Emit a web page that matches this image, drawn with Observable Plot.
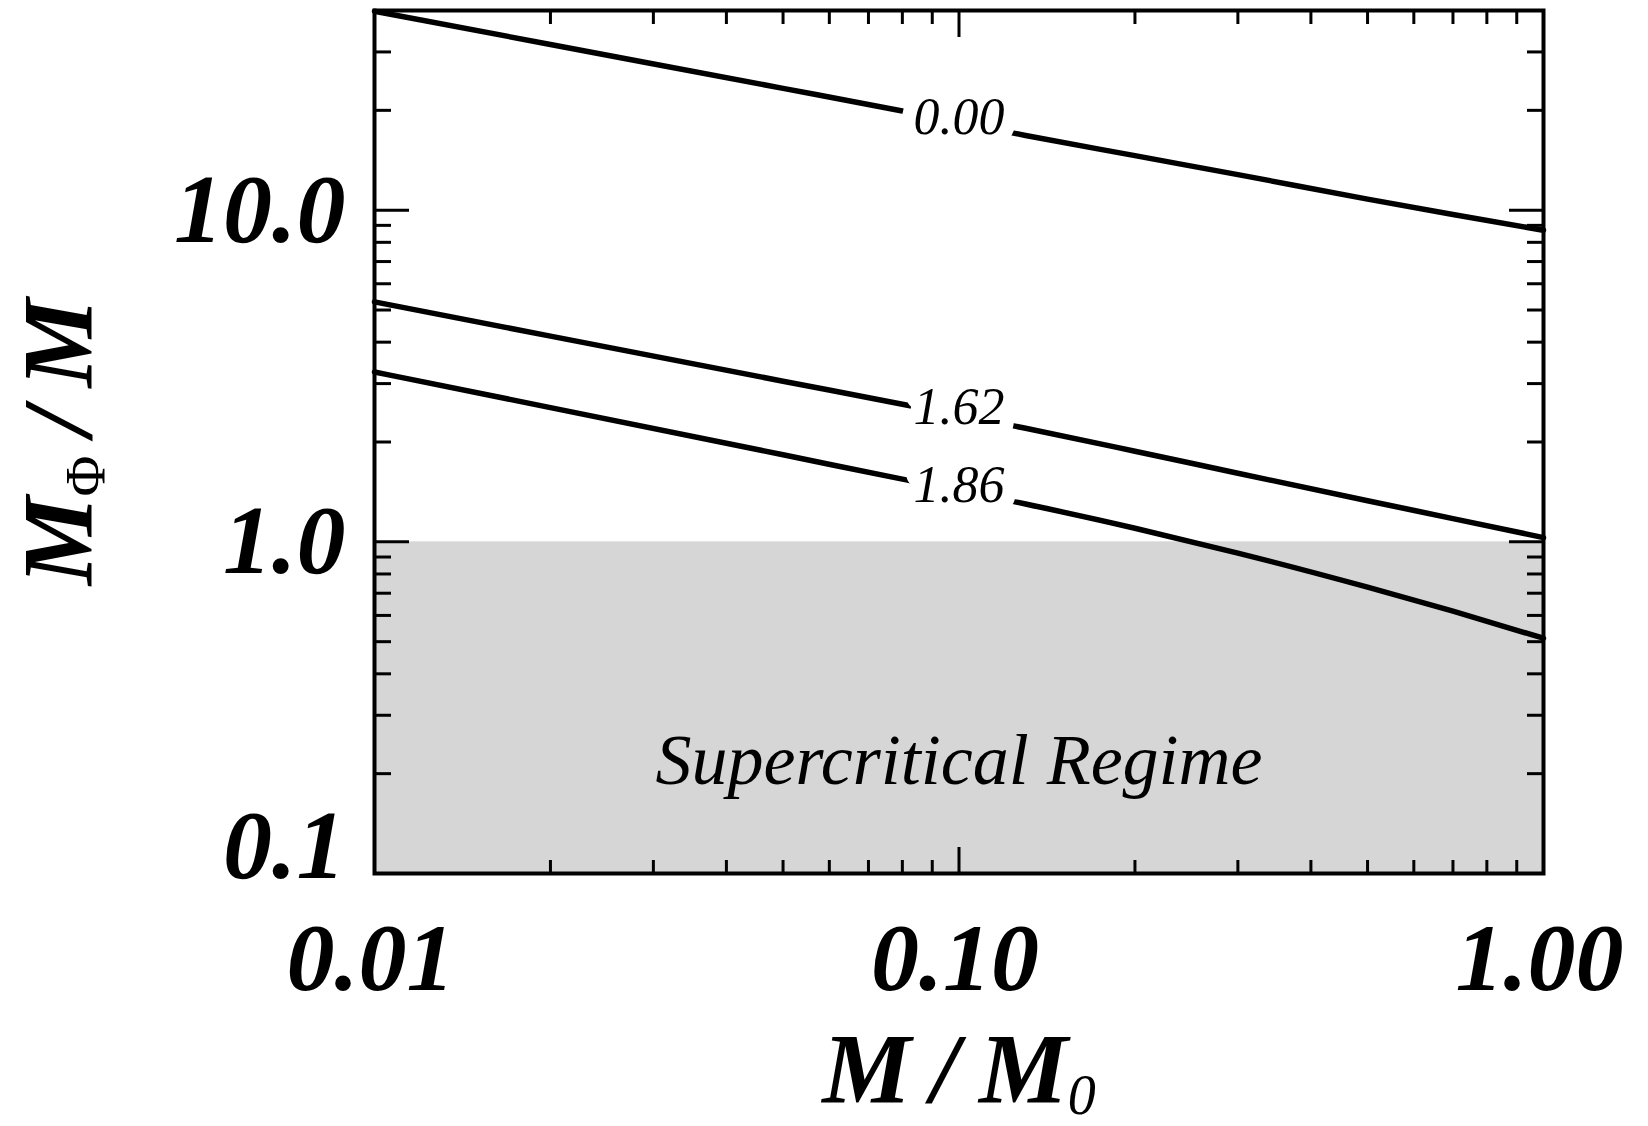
<!DOCTYPE html>
<html>
<head>
<meta charset="utf-8">
<script src="https://cdn.jsdelivr.net/npm/d3@7"></script>
<script src="https://cdn.jsdelivr.net/npm/@observablehq/plot@0.6"></script>
<style>
  body { margin: 0; background: #fff; }
  #chart svg { display: block; }
</style>
</head>
<body>
<div id="chart"></div>
<script>
// ---- data ----
const massRatio = [0.01, 0.02, 0.05, 0.08, 0.13, 0.2, 0.3, 0.5, 0.7, 1.0];
const curve000 = [39.8, 31.6, 23.3, 19.9, 16.8, 14.6, 12.8, 10.8, 9.7, 8.7];
const curve162 = [5.29, 4.17, 3.05, 2.60, 2.20, 1.876, 1.61, 1.33, 1.175, 1.03];
const curve186 = [3.25, 2.54, 1.83, 1.545, 1.30, 1.099, 0.925, 0.730, 0.618, 0.512];
const contourLevels = ["0.00", "1.62", "1.86"];
const labelX = [0.1, 0.1, 0.1];
const labelY = [19.0, 2.545, 1.48];
const criticalRatio = 1.0;
const regimeLabel = "Supercritical Regime";
const regimeX = 0.1;
const regimeY = 0.219;

const xDomain = [0.01, 1];
const yDomain = [0.1, 40];
const xTickValues = [0.01, 0.1, 1];
const xTickLabels = ["0.01", "0.10", "1.00"];
const xMinorTicks = [0.02, 0.03, 0.04, 0.05, 0.06, 0.07, 0.08, 0.09, 0.2, 0.3, 0.4, 0.5, 0.6, 0.7, 0.8, 0.9];
const yTickValues = [0.1, 1, 10];
const yTickLabels = ["0.1", "1.0", "10.0"];
const yMinorTicks = [0.2, 0.3, 0.4, 0.5, 0.6, 0.7, 0.8, 0.9, 2, 3, 4, 5, 6, 7, 8, 9, 20, 30];

const xTitleMain = "M\u2009/\u2009M";
const xTitleSub = "0";
const yTitleMain = "M";
const yTitleSub = "\u03A6";
const yTitleRest = "\u2009/\u2009M";

// ---- build tables ----
const rows = [];
[curve000, curve162, curve186].forEach((ys, k) =>
  ys.forEach((y, i) => rows.push({x: massRatio[i], y, level: contourLevels[k]}))
);
const labels = contourLevels.map((t, i) => ({x: labelX[i], y: labelY[i], text: t}));
const region = [{x1: xDomain[0], x2: xDomain[1], y1: yDomain[0], y2: criticalRatio}];

const xFmt = d => xTickLabels[xTickValues.indexOf(d)];
const yFmt = d => yTickLabels[yTickValues.indexOf(d)];

const tickFont = {fontWeight: "bold", fontStyle: "italic", fontFamily: "Liberation Serif"};
const tickStyle = {strokeWidth: 3, fill: "none", stroke: "black"};

const chart = Plot.plot({
  width: 1648,
  height: 1126,
  marginLeft: 374,
  marginRight: 105,
  marginTop: 10,
  marginBottom: 253,
  x: {type: "log", domain: xDomain},
  y: {type: "log", domain: yDomain},
  style: {background: "white", color: "black", fontFamily: "Liberation Serif"},
  marks: [
    Plot.rect(region, {x1: "x1", x2: "x2", y1: "y1", y2: "y2", fill: "#d6d6d6"}),
    Plot.line(rows, {x: "x", y: "y", z: "level", stroke: "black", strokeWidth: 5.5, curve: "monotone-x"}),
    Plot.text(labels, {
      x: "x", y: "y", text: "text", fontSize: 52, fontStyle: "italic", fontFamily: "Liberation Serif",
      fill: "black", stroke: "white", strokeWidth: 28, strokeLinejoin: "round", lineAnchor: "middle"
    }),
    Plot.text([regimeLabel], {
      x: () => regimeX, y: () => regimeY, text: d => d, fontSize: 72, fontStyle: "italic",
      fontFamily: "Liberation Serif", fill: "black", lineAnchor: "middle"
    }),
    // ticks (inward) on all four sides
    Plot.axisY(yTickValues, {anchor: "left", tickSize: -35, ...tickStyle}),
    Plot.axisY(yTickValues, {anchor: "right", tickSize: -35, ...tickStyle}),
    Plot.axisY(yMinorTicks, {anchor: "left", tickSize: -17, ...tickStyle}),
    Plot.axisY(yMinorTicks, {anchor: "right", tickSize: -17, ...tickStyle}),
    Plot.axisX(xTickValues, {anchor: "bottom", tickSize: -26, ...tickStyle}),
    Plot.axisX(xTickValues, {anchor: "top", tickSize: -26, ...tickStyle}),
    Plot.axisX(xMinorTicks, {anchor: "bottom", tickSize: -13, ...tickStyle}),
    Plot.axisX(xMinorTicks, {anchor: "top", tickSize: -13, ...tickStyle}),
    // tick labels
    Plot.axisY(yTickValues.filter(v => v !== yDomain[0]), {
      anchor: "left", tickSize: 0, tickPadding: 29, tickFormat: yFmt, label: null, fill: "black", fontSize: 98, ...tickFont
    }),
    Plot.axisY([yDomain[0]], {
      anchor: "left", tickSize: 0, tickPadding: 29, tickFormat: yFmt, label: null, dy: -27, fill: "black", fontSize: 98, ...tickFont
    }),
    Plot.axisX(xTickValues, {
      anchor: "bottom", tickSize: 0, tickPadding: 48, tickFormat: xFmt, label: null, dx: -4, fill: "black", fontSize: 96, ...tickFont
    }),
    Plot.frame({stroke: "black", strokeWidth: 4}),
    // axis titles
    Plot.text([xTitleMain + xTitleSub], {
      frameAnchor: "bottom", dy: 228, lineAnchor: "bottom", text: d => d,
      fontSize: 100, fontWeight: "bold", fontStyle: "italic", fontFamily: "Liberation Serif", fill: "black"
    }),
    Plot.text([yTitleMain + yTitleSub + yTitleRest], {
      frameAnchor: "left", dx: -284, rotate: -90, lineAnchor: "bottom", textAnchor: "middle", text: d => d,
      fontSize: 100, fontWeight: "bold", fontStyle: "italic", fontFamily: "Liberation Serif", fill: "black"
    })
  ]
});

// rich text (subscripts) for the axis titles
const NS = "http://www.w3.org/2000/svg";
function span(el, txt, attrs) {
  const t = document.createElementNS(NS, "tspan");
  t.textContent = txt;
  for (const k in attrs) t.setAttribute(k, attrs[k]);
  el.appendChild(t);
}
d3.select(chart).selectAll("text").each(function () {
  if (this.textContent === xTitleMain + xTitleSub) {
    this.textContent = "";
    span(this, xTitleMain, {});
    span(this, xTitleSub, {dy: 12, "font-size": 56, "font-weight": "normal", "font-style": "italic"});
  } else if (this.textContent === yTitleMain + yTitleSub + yTitleRest) {
    this.textContent = "";
    span(this, yTitleMain, {});
    span(this, yTitleSub, {dy: 14, "font-size": 56, "font-weight": "normal", "font-style": "normal"});
    span(this, yTitleRest, {dy: -14});
  }
});

document.getElementById("chart").appendChild(chart);
</script>
</body>
</html>
